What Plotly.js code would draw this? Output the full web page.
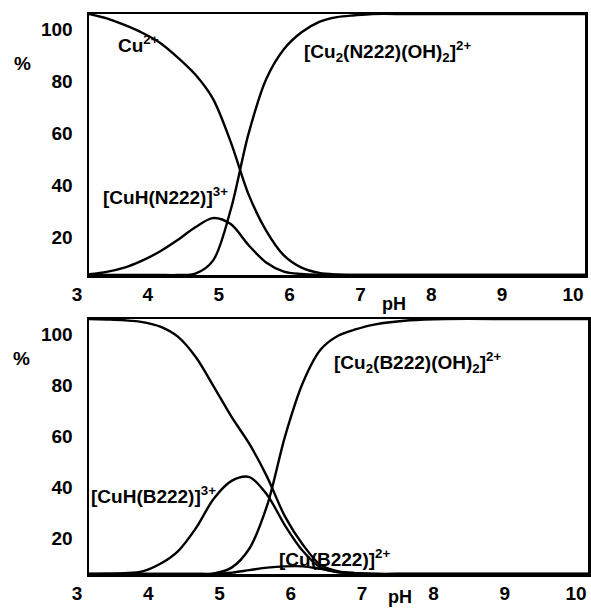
<!DOCTYPE html>
<html>
<head>
<meta charset="utf-8">
<script src="https://cdn.plot.ly/plotly-3.0.1.min.js"></script>
<style>html,body{margin:0;padding:0;background:#fff;}#chart{width:591px;height:608px;}</style>
</head>
<body>
<div id="chart"></div>
<script>
// pH grid shared by both panels
const pH = [3, 3.25, 3.5, 3.75, 4, 4.25, 4.5, 4.75, 5, 5.25, 5.5, 5.75, 6, 6.25, 6.5, 6.75, 7, 7.5, 8, 9, 10];

// Top panel: N222 system (%)
const cuFreeN = [100, 98.3, 95.8, 92.8, 89, 83.4, 76.8, 67.5, 51, 31, 17, 7.5, 2.8, 0.8, 0.2, 0, 0, 0, 0, 0, 0];
const cuHN    = [0.3, 1.2, 2.8, 5.5, 9, 13.4, 18.3, 21.8, 19.5, 11.5, 4.8, 1.3, 0.4, 0.1, 0, 0, 0, 0, 0, 0, 0];
const cu2N    = [0, 0, 0, 0, 0, 0, 0.5, 5.5, 25, 54, 75, 86.5, 93, 97, 98.8, 99.5, 100, 100, 100, 100, 100];

// Bottom panel: B222 system (%)
const cuFreeB = [100, 99.8, 99.5, 98.8, 97, 93, 85, 73.5, 61.6, 51, 38, 22.5, 11.5, 3.5, 1.0, 0.3, 0, 0, 0, 0, 0];
const cuHB    = [0, 0.1, 0.3, 1, 4, 9, 18, 29.5, 36.5, 38, 31, 19, 9, 2.5, 0.7, 0.2, 0, 0, 0, 0, 0];
const cu2B    = [0, 0, 0, 0, 0, 0, 0, 0.2, 2.5, 10, 27, 54, 75, 88, 93.5, 96, 97.8, 99.5, 100, 100, 100];
const cuB     = [0, 0, 0, 0, 0, 0, 0, 0, 0.5, 1.5, 2.5, 3, 3, 2, 0.8, 0.3, 0, 0, 0, 0, 0];

const xTicks = [3, 4, 5, 6, 7, 8, 9, 10];
const yTicks = [20, 40, 60, 80, 100];

const W = 591, H = 608;
const FONT = 'Liberation Sans, Arial, sans-serif';

function line(x, y, xa, ya) {
  return {x: x, y: y, xaxis: xa, yaxis: ya, type: 'scatter', mode: 'lines',
    line: {color: '#000', width: 2.4, shape: 'spline', smoothing: 0.9},
    cliponaxis: false, hoverinfo: 'skip', showlegend: false};
}

const data = [
  line(pH, cuFreeN, 'x', 'y'),
  line(pH, cuHN, 'x', 'y'),
  line(pH, cu2N, 'x', 'y'),
  line(pH, cuFreeB, 'x2', 'y2'),
  line(pH, cuHB, 'x2', 'y2'),
  line(pH, cu2B, 'x2', 'y2'),
  line(pH, cuB, 'x2', 'y2')
];

function xaxis(d) {
  return {domain: d, range: [3, 10], tickvals: xTicks, ticks: '', showgrid: false, zeroline: false,
    showline: true, mirror: true, linecolor: '#000', linewidth: 2.5,
    tickfont: {family: FONT, size: 19, color: '#000', weight: 'bold'},
    ticklabelshift: -12, ticklabelstandoff: 1, fixedrange: true};
}
function yaxis(d, anchor) {
  return {domain: d, range: [0, 100], tickvals: yTicks, ticks: '', showgrid: false, zeroline: false,
    showline: true, mirror: true, linecolor: '#000', linewidth: 2.5, anchor: anchor,
    tickfont: {family: FONT, size: 19, color: '#000', weight: 'bold'},
    ticklabelshift: 15, ticklabelstandoff: 10, fixedrange: true};
}

function px(x) { return x / W; }
function py(y) { return 1 - y / H; }

function ann(text, x, y, xanchor, size) {
  return {text: text, x: px(x), y: py(y), xref: 'paper', yref: 'paper', xanchor: xanchor || 'left', yanchor: 'middle',
    showarrow: false, font: {family: FONT, size: size || 19, color: '#000', weight: 'bold'}};
}

const layout = {
  width: W, height: H,
  margin: {l: 0, r: 0, t: 0, b: 0},
  paper_bgcolor: '#fff', plot_bgcolor: '#fff',
  showlegend: false,
  xaxis: Object.assign(xaxis([89 / W, 585 / W]), {anchor: 'y'}),
  yaxis: yaxis([1 - 275 / H, 1 - 14 / H], 'x'),
  xaxis2: Object.assign(xaxis([89 / W, 588 / W]), {anchor: 'y2'}),
  yaxis2: yaxis([1 - 574 / H, 1 - 319 / H], 'x2'),
  annotations: [
    ann('%', 22, 63, 'center'),
    ann('%', 21, 358, 'center'),
    ann('pH', 394, 304, 'center', 18),
    ann('pH', 400, 597, 'center', 18),
    ann('Cu<sup>2+</sup>', 116, 44),
    ann('[Cu<sub>2</sub>(N222)(OH)<sub>2</sub>]<sup>2+</sup>', 302, 52),
    ann('[CuH(N222)]<sup>3+</sup>', 101, 196),
    ann('[Cu<sub>2</sub>(B222)(OH)<sub>2</sub>]<sup>2+</sup>', 332, 362),
    ann('[CuH(B222)]<sup>3+</sup>', 89, 495),
    ann('[Cu(B222)]<sup>2+</sup>', 277, 558)
  ]
};

Plotly.newPlot('chart', data, layout, {staticPlot: true, displayModeBar: false});
</script>
</body>
</html>
